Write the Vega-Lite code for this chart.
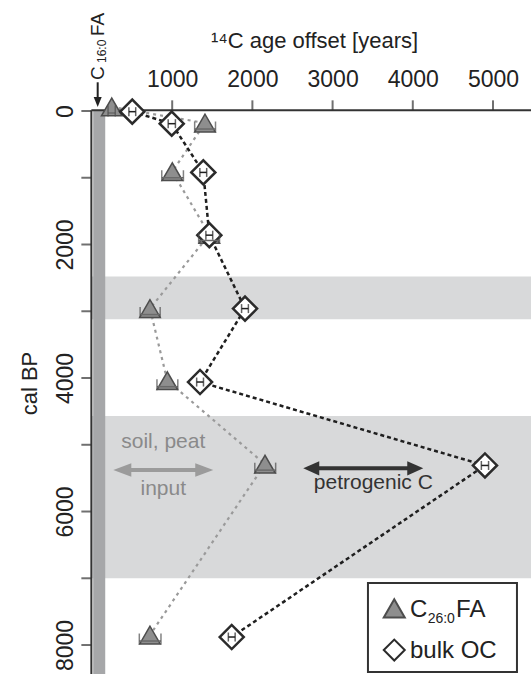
{
  "$schema": "https://vega.github.io/schema/vega-lite/v6.json",
  "width": 439,
  "height": 563,
  "autosize": {"type": "none"},
  "padding": {"left": 92, "top": 111, "right": 0, "bottom": 0},
  "background": "white",
  "config": {
    "font": "Liberation Sans",
    "view": {"stroke": null},
    "axis": {"grid": false, "domain": false, "ticks": false, "labelColor": "#222222", "titleColor": "#222222", "titleFontWeight": "normal", "labelFlush": false, "labelOverlap": false}
  },
  "datasets": {
    "pts": [
      {"series": "C₂₆:₀FA", "age": -60, "offset": 246, "lo": 200, "hi": 290},
      {"series": "C₂₆:₀FA", "age": 180, "offset": 1409, "lo": 1280, "hi": 1540},
      {"series": "C₂₆:₀FA", "age": 910, "offset": 1001, "lo": 870, "hi": 1140},
      {"series": "C₂₆:₀FA", "age": 1850, "offset": 1463, "lo": 1330, "hi": 1590},
      {"series": "C₂₆:₀FA", "age": 2960, "offset": 723, "lo": 600, "hi": 850},
      {"series": "C₂₆:₀FA", "age": 4040, "offset": 939, "lo": 810, "hi": 1070},
      {"series": "C₂₆:₀FA", "age": 5290, "offset": 2157, "lo": 2030, "hi": 2290},
      {"series": "C₂₆:₀FA", "age": 7850, "offset": 723, "lo": 590, "hi": 860},
      {"series": "bulk OC", "age": 10, "offset": 502, "lo": 460, "hi": 545},
      {"series": "bulk OC", "age": 190, "offset": 994, "lo": 950, "hi": 1040},
      {"series": "bulk OC", "age": 920, "offset": 1388, "lo": 1345, "hi": 1430},
      {"series": "bulk OC", "age": 1860, "offset": 1463, "lo": 1420, "hi": 1505},
      {"series": "bulk OC", "age": 2960, "offset": 1908, "lo": 1865, "hi": 1950},
      {"series": "bulk OC", "age": 4060, "offset": 1347, "lo": 1305, "hi": 1390},
      {"series": "bulk OC", "age": 5310, "offset": 4900, "lo": 4855, "hi": 4945},
      {"series": "bulk OC", "age": 7880, "offset": 1742, "lo": 1700, "hi": 1785}
    ]
  },
  "layer": [
    {
      "data": {"values": [{"start": 2480, "end": 3120}, {"start": 4570, "end": 7000}]},
      "mark": {"type": "rect", "color": "#d8d9da"},
      "encoding": {
        "y": {"field": "start", "type": "quantitative", "scale": {"domain": [0, 8434], "nice": false, "zero": false, "reverse": true},
          "axis": {"orient": "left", "values": [0, 1000, 2000, 3000, 4000, 5000, 6000, 7000, 8000], "format": "d",
            "labelExpr": "datum.value % 2000 == 0 ? datum.label : ''", "labelAngle": 270, "labelFontSize": 23,
            "labelPadding": 20, "labelBaseline": "alphabetic", "title": "cal BP", "titleFontSize": 22, "titleAngle": 270,
            "titleX": -63, "titleY": 272, "titleAlign": "center", "titleBaseline": "middle"}},
        "y2": {"field": "end"}
      }
    },
    {
      "data": {"values": [{"from": 15, "to": 165}]},
      "mark": {"type": "rect", "color": "#a6a7a9"},
      "encoding": {
        "x": {"field": "from", "type": "quantitative", "scale": {"domain": [0, 5474], "nice": false, "zero": false},
          "axis": {"orient": "top", "values": [1000, 2000, 3000, 4000, 5000], "format": "d",
            "labelFontSize": 23, "labelPadding": 25, "labelBaseline": "alphabetic", "title": "¹⁴C age offset [years]", "titleFontSize": 22,
            "titleX": 222, "titleY": -64, "titleAlign": "center", "titleBaseline": "alphabetic"}},
        "x2": {"field": "to"}
      }
    },
    {
      "data": {"values": [{"at": -10, "from": -8, "to": 5474}]},
      "mark": {"type": "rule", "color": "#333333", "strokeWidth": 2},
      "encoding": {"y": {"field": "at", "type": "quantitative"}, "x": {"field": "from", "type": "quantitative"}, "x2": {"field": "to"}}
    },
    {
      "data": {"values": [{"at": -8, "from": -10, "to": 8434}]},
      "mark": {"type": "rule", "color": "#333333", "strokeWidth": 2},
      "encoding": {"x": {"field": "at", "type": "quantitative"}, "y": {"field": "from", "type": "quantitative"}, "y2": {"field": "to"}}
    },
    {
      "data": {"values": [{"v": 1000, "base": -10}, {"v": 2000, "base": -10}, {"v": 3000, "base": -10}, {"v": 4000, "base": -10}, {"v": 5000, "base": -10}]},
      "mark": {"type": "tick", "orient": "vertical", "color": "#333333", "thickness": 2, "size": 10, "yOffset": -5},
      "encoding": {"x": {"field": "v", "type": "quantitative"}, "y": {"field": "base", "type": "quantitative"}}
    },
    {
      "data": {"values": [{"v": 0, "base": -8}, {"v": 1000, "base": -8}, {"v": 2000, "base": -8}, {"v": 3000, "base": -8}, {"v": 4000, "base": -8}, {"v": 5000, "base": -8}, {"v": 6000, "base": -8}, {"v": 7000, "base": -8}, {"v": 8000, "base": -8}]},
      "mark": {"type": "tick", "orient": "horizontal", "color": "#333333", "thickness": 2, "size": 10, "xOffset": -5},
      "encoding": {"y": {"field": "v", "type": "quantitative"}, "x": {"field": "base", "type": "quantitative"}}
    },
    {
      "data": {"name": "pts"},
      "transform": [{"filter": {"field": "series", "equal": "C₂₆:₀FA"}}],
      "mark": {"type": "line", "color": "#9a9a9a", "strokeWidth": 2.2, "strokeDash": [3, 4]},
      "encoding": {
        "x": {"field": "offset", "type": "quantitative"},
        "y": {"field": "age", "type": "quantitative"},
        "order": {"field": "age", "type": "quantitative"}
      }
    },
    {
      "data": {"name": "pts"},
      "transform": [{"filter": {"field": "series", "equal": "bulk OC"}}],
      "mark": {"type": "line", "color": "#1f1f1f", "strokeWidth": 2.5, "strokeDash": [4, 3]},
      "encoding": {
        "x": {"field": "offset", "type": "quantitative"},
        "y": {"field": "age", "type": "quantitative"},
        "order": {"field": "age", "type": "quantitative"}
      }
    },
    {
      "data": {"name": "pts"},
      "mark": {"type": "point", "filled": true, "opacity": 1},
      "encoding": {
        "x": {"field": "offset", "type": "quantitative"},
        "y": {"field": "age", "type": "quantitative"},
        "shape": {"field": "series", "type": "nominal", "scale": {"domain": ["C₂₆:₀FA", "bulk OC"], "range": ["triangle-up", "diamond"]}, "legend": null},
        "fill": {"field": "series", "type": "nominal", "scale": {"domain": ["C₂₆:₀FA", "bulk OC"], "range": ["#8e8e8e", "#ffffff"]}, "legend": null},
        "stroke": {"field": "series", "type": "nominal", "scale": {"domain": ["C₂₆:₀FA", "bulk OC"], "range": ["#4d4d4d", "#2b2b2b"]}, "legend": null},
        "size": {"field": "series", "type": "nominal", "scale": {"domain": ["C₂₆:₀FA", "bulk OC"], "range": [420, 580]}, "legend": null},
        "strokeWidth": {"field": "series", "type": "nominal", "scale": {"domain": ["C₂₆:₀FA", "bulk OC"], "range": [1.5, 2.5]}, "legend": null}
      }
    },
    {
      "data": {"name": "pts"},
      "transform": [{"filter": {"field": "series", "equal": "C₂₆:₀FA"}}],
      "mark": {"type": "rule", "color": "#6a6a6a", "strokeWidth": 1.5, "yOffset": 6},
      "encoding": {"x": {"field": "lo", "type": "quantitative"}, "x2": {"field": "hi"}, "y": {"field": "age", "type": "quantitative"}}
    },
    {
      "data": {"name": "pts"},
      "transform": [{"filter": {"field": "series", "equal": "C₂₆:₀FA"}}],
      "mark": {"type": "tick", "orient": "vertical", "color": "#4d4d4d", "thickness": 1.5, "size": 11, "yOffset": 4},
      "encoding": {"x": {"field": "lo", "type": "quantitative"}, "y": {"field": "age", "type": "quantitative"}}
    },
    {
      "data": {"name": "pts"},
      "transform": [{"filter": {"field": "series", "equal": "C₂₆:₀FA"}}],
      "mark": {"type": "tick", "orient": "vertical", "color": "#4d4d4d", "thickness": 1.5, "size": 11, "yOffset": 4},
      "encoding": {"x": {"field": "hi", "type": "quantitative"}, "y": {"field": "age", "type": "quantitative"}}
    },
    {
      "data": {"name": "pts"},
      "transform": [{"filter": {"field": "series", "equal": "bulk OC"}}],
      "mark": {"type": "rule", "color": "#1f1f1f", "strokeWidth": 1.5},
      "encoding": {"x": {"field": "lo", "type": "quantitative"}, "x2": {"field": "hi"}, "y": {"field": "age", "type": "quantitative"}}
    },
    {
      "data": {"name": "pts"},
      "transform": [{"filter": {"field": "series", "equal": "bulk OC"}}],
      "mark": {"type": "tick", "orient": "vertical", "color": "#1f1f1f", "thickness": 1.5, "size": 9},
      "encoding": {"x": {"field": "lo", "type": "quantitative"}, "y": {"field": "age", "type": "quantitative"}}
    },
    {
      "data": {"name": "pts"},
      "transform": [{"filter": {"field": "series", "equal": "bulk OC"}}],
      "mark": {"type": "tick", "orient": "vertical", "color": "#1f1f1f", "thickness": 1.5, "size": 9},
      "encoding": {"x": {"field": "hi", "type": "quantitative"}, "y": {"field": "age", "type": "quantitative"}}
    },
    {
      "data": {"values": [{"from": 378, "to": 1400, "age": 5378}]},
      "mark": {"type": "rule", "color": "#9b9b9b", "strokeWidth": 4},
      "encoding": {"x": {"field": "from", "type": "quantitative"}, "x2": {"field": "to"}, "y": {"field": "age", "type": "quantitative"}}
    },
    {
      "data": {"values": [{"pos": 378, "age": 5378, "dir": "left"}, {"pos": 1400, "age": 5378, "dir": "right"}]},
      "mark": {"type": "point", "filled": true, "color": "#9b9b9b", "opacity": 1, "size": 324},
      "encoding": {"x": {"field": "pos", "type": "quantitative"}, "y": {"field": "age", "type": "quantitative"},
        "shape": {"field": "dir", "type": "nominal", "scale": {"domain": ["left", "right"], "range": ["M -1 0 L 1 -0.75 L 1 0.75 Z", "M 1 0 L -1 -0.75 L -1 0.75 Z"]}, "legend": null}}
    },
    {
      "data": {"values": [{"from": 2734, "to": 4031, "age": 5353}]},
      "mark": {"type": "rule", "color": "#333333", "strokeWidth": 4},
      "encoding": {"x": {"field": "from", "type": "quantitative"}, "x2": {"field": "to"}, "y": {"field": "age", "type": "quantitative"}}
    },
    {
      "data": {"values": [{"pos": 2734, "age": 5353, "dir": "left"}, {"pos": 4031, "age": 5353, "dir": "right"}]},
      "mark": {"type": "point", "filled": true, "color": "#333333", "opacity": 1, "size": 256},
      "encoding": {"x": {"field": "pos", "type": "quantitative"}, "y": {"field": "age", "type": "quantitative"},
        "shape": {"field": "dir", "type": "nominal", "scale": {"domain": ["left", "right"], "range": ["M -1 0 L 1 -0.9 L 1 0.9 Z", "M 1 0 L -1 -0.9 L -1 0.9 Z"]}, "legend": null}}
    },
    {
      "data": {"values": [{"label": "soil, peat", "pos": 889, "age": 5049}, {"label": "input", "pos": 889, "age": 5753}]},
      "mark": {"type": "text", "color": "#8a8a8a", "fontSize": 21, "align": "center", "baseline": "alphabetic"},
      "encoding": {"x": {"field": "pos", "type": "quantitative"}, "y": {"field": "age", "type": "quantitative"}, "text": {"field": "label"}}
    },
    {
      "data": {"values": [{"label": "petrogenic C", "pos": 3508, "age": 5668}]},
      "mark": {"type": "text", "color": "#333333", "fontSize": 21, "align": "center", "baseline": "alphabetic"},
      "encoding": {"x": {"field": "pos", "type": "quantitative"}, "y": {"field": "age", "type": "quantitative"}, "text": {"field": "label"}}
    },
    {
      "data": {"values": [{"label": "C", "pos": 150, "age": -464}, {"label": "FA", "pos": 150, "age": -1124}]},
      "mark": {"type": "text", "color": "#222222", "fontSize": 19, "angle": 270, "align": "left", "baseline": "alphabetic"},
      "encoding": {"x": {"field": "pos", "type": "quantitative"}, "y": {"field": "age", "type": "quantitative"}, "text": {"field": "label"}}
    },
    {
      "data": {"values": [{"label": "16:0", "pos": 180, "age": -719}]},
      "mark": {"type": "text", "color": "#222222", "fontSize": 12, "angle": 270, "align": "left", "baseline": "alphabetic"},
      "encoding": {"x": {"field": "pos", "type": "quantitative"}, "y": {"field": "age", "type": "quantitative"}, "text": {"field": "label"}}
    },
    {
      "data": {"values": [{"pos": 71, "from": -430, "to": -180}]},
      "mark": {"type": "rule", "color": "#222222", "strokeWidth": 2},
      "encoding": {"x": {"field": "pos", "type": "quantitative"}, "y": {"field": "from", "type": "quantitative"}, "y2": {"field": "to"}}
    },
    {
      "data": {"values": [{"pos": 71, "age": -135}]},
      "mark": {"type": "point", "filled": true, "color": "#222222", "opacity": 1, "size": 100, "shape": "M 0 1 L -0.8 -1 L 0.8 -1 Z"},
      "encoding": {"x": {"field": "pos", "type": "quantitative"}, "y": {"field": "age", "type": "quantitative"}}
    },
    {
      "data": {"values": [{"x1": 3441, "x2": 5299, "y1": 7071, "y2": 8404}]},
      "mark": {"type": "rect", "fill": "white", "stroke": "#333333", "strokeWidth": 2},
      "encoding": {"x": {"field": "x1", "type": "quantitative"}, "x2": {"field": "x2"}, "y": {"field": "y1", "type": "quantitative"}, "y2": {"field": "y2"}}
    },
    {
      "data": {"values": [{"series": "C₂₆:₀FA", "pos": 3769, "age": 7450}, {"series": "bulk OC", "pos": 3769, "age": 8075}]},
      "mark": {"type": "point", "filled": true, "opacity": 1, "size": 440, "strokeWidth": 2},
      "encoding": {
        "x": {"field": "pos", "type": "quantitative"},
        "y": {"field": "age", "type": "quantitative"},
        "shape": {"field": "series", "type": "nominal", "scale": {"domain": ["C₂₆:₀FA", "bulk OC"], "range": ["triangle-up", "diamond"]}, "legend": null},
        "fill": {"field": "series", "type": "nominal", "legend": null},
        "stroke": {"field": "series", "type": "nominal", "legend": null}
      }
    },
    {
      "data": {"values": [{"label": "C", "pos": 3965, "age": 7575}, {"label": "FA", "pos": 4540, "age": 7575}, {"label": "bulk OC", "pos": 3965, "age": 8199}]},
      "mark": {"type": "text", "color": "#222222", "fontSize": 24, "align": "left", "baseline": "alphabetic"},
      "encoding": {"x": {"field": "pos", "type": "quantitative"}, "y": {"field": "age", "type": "quantitative"}, "text": {"field": "label"}}
    },
    {
      "data": {"values": [{"label": "26:0", "pos": 4185, "age": 7670}]},
      "mark": {"type": "text", "color": "#222222", "fontSize": 14, "align": "left", "baseline": "alphabetic"},
      "encoding": {"x": {"field": "pos", "type": "quantitative"}, "y": {"field": "age", "type": "quantitative"}, "text": {"field": "label"}}
    }
  ],
  "resolve": {"scale": {"shape": "independent"}}
}
